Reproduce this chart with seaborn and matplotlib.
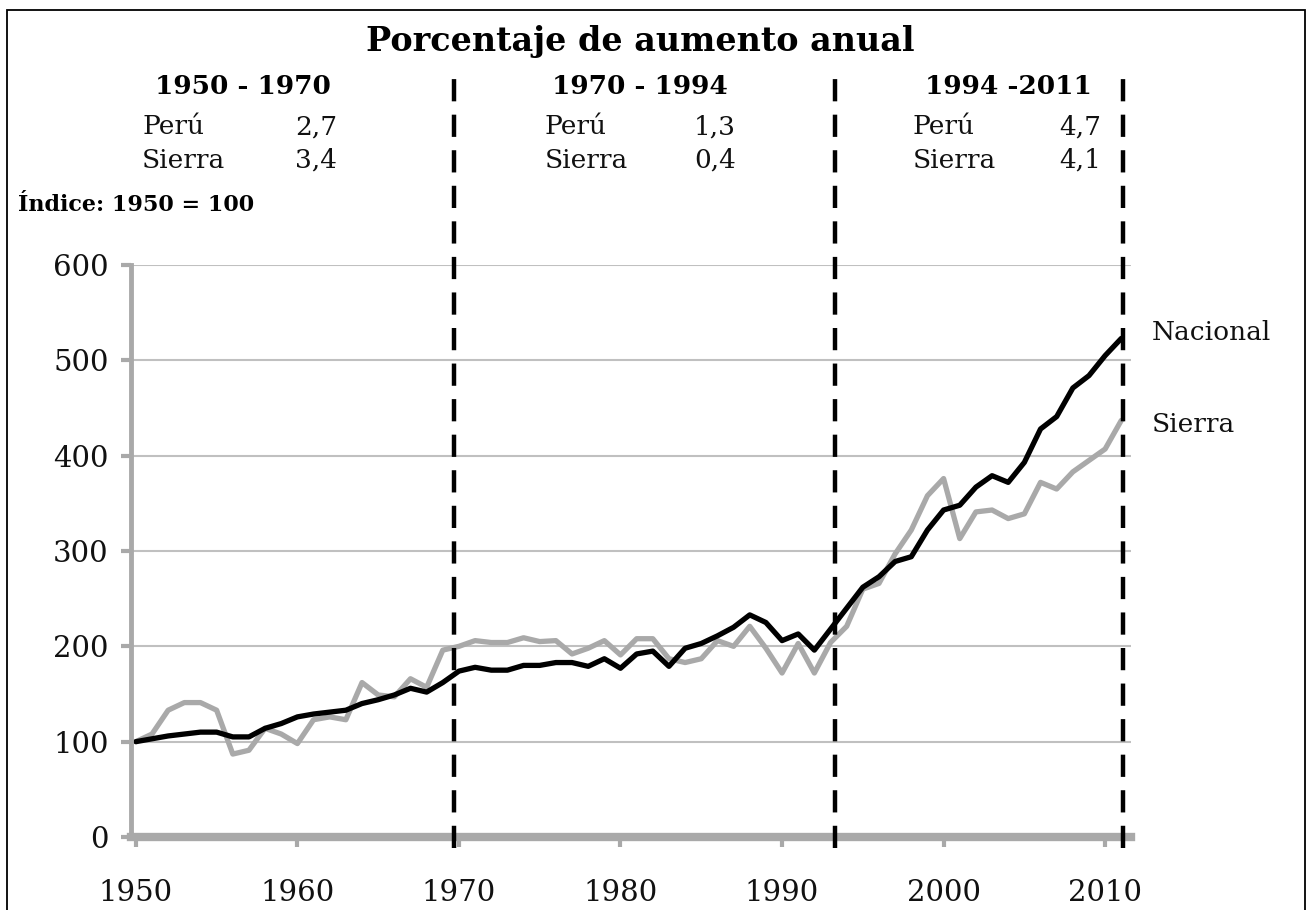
import matplotlib
matplotlib.use("Agg")
import matplotlib.pyplot as plt
import seaborn as sns
import pandas as pd
from matplotlib.patches import Rectangle

years = list(range(1950, 2012))
nacional = [100, 103, 106, 108, 110, 110, 105, 105, 114, 119,
            126, 129, 131, 133, 140, 144, 149, 156, 152, 162,
            174, 178, 175, 175, 180, 180, 183, 183, 179, 187,
            177, 192, 195, 179, 198, 203, 211, 220, 233, 225,
            206, 213, 196, 218, 240, 262, 273, 289, 294, 322,
            343, 348, 367, 379, 372, 393, 428, 441, 471, 484,
            505, 523]
sierra = [100, 108, 133, 141, 141, 133, 87, 91, 114, 108,
          98, 123, 126, 123, 162, 149, 147, 166, 157, 196,
          200, 206, 204, 204, 209, 205, 206, 192, 198, 206,
          191, 208, 208, 187, 183, 187, 206, 200, 221, 198,
          172, 203, 172, 204, 221, 260, 266, 297, 322, 358,
          376, 313, 341, 343, 334, 339, 372, 365, 383, 395,
          407, 437]
series_names = ["Nacional", "Sierra"]
period_breaks = [1969.7, 1993.3, 2011.1]
period_titles = ["1950 - 1970", "1970 - 1994", "1994 -2011"]
peru_rates = ["2,7", "1,3", "4,7"]
sierra_rates = ["3,4", "0,4", "4,1"]
yticks = [0, 100, 200, 300, 400, 500, 600]
xticks = [1950, 1960, 1970, 1980, 1990, 2000, 2010]

df = pd.DataFrame({"year": years * 2,
                   "value": nacional + sierra,
                   "serie": [series_names[0]] * len(years) + [series_names[1]] * len(years)})

sns.set_theme(style="white")
plt.rcParams["font.family"] = ["DejaVu Serif"]

W, H = 1309, 910
fig = plt.figure(figsize=(W / 100, H / 100), dpi=100)
ax = fig.add_axes([131 / W, 1 - 837 / H, (1131 - 131) / W, (837 - 265) / H])

GRAY = "#a9a9a9"
sns.lineplot(data=df, x="year", y="value", hue="serie",
             palette={"Nacional": "#000000", "Sierra": GRAY},
             hue_order=["Sierra", "Nacional"],
             linewidth=3.8, ax=ax, legend=False, sort=False)

ax.set_xlim(1949.7, 2011.6)
ax.set_ylim(0, 600)
ax.set_yticks(yticks)
ax.set_xticks(xticks)
ax.set_xlabel("")
ax.set_ylabel("")
for g in yticks[1:]:
    ax.axhline(g, color="#c0c0c0", lw=1.5, zorder=0)
for s in ["top", "right"]:
    ax.spines[s].set_visible(False)
ax.spines["left"].set_color(GRAY)
ax.spines["left"].set_linewidth(3.5)
ax.spines["bottom"].set_color(GRAY)
ax.spines["bottom"].set_linewidth(6)
ax.tick_params(axis="y", direction="out", length=7, width=3, color=GRAY,
               labelsize=21, pad=9, left=True, labelcolor="#111111")
ax.tick_params(axis="x", direction="out", length=7, width=3, color=GRAY,
               labelsize=21, pad=23, bottom=True, labelcolor="#111111")

ax.vlines(period_breaks, -12, 797, colors="black", linestyles=(0, (5, 3)),
          linewidth=3.2, clip_on=False, zorder=5)

# header texts
fig.text(640 / W, 1 - 42 / H, "Porcentaje de aumento anual", ha="center", va="center",
         fontsize=24, fontweight="bold", color="black")
centers = [243, 640, 1008]
left_lab = [142, 545, 913]
right_val = [337, 736, 1101]
for i in range(3):
    fig.text(centers[i] / W, 1 - 86 / H, period_titles[i], ha="center", va="center",
             fontsize=19, fontweight="bold", color="black")
    fig.text(left_lab[i] / W, 1 - 127 / H, "Perú", ha="left", va="center", fontsize=19, color="#111111")
    fig.text(left_lab[i] / W, 1 - 160 / H, "Sierra", ha="left", va="center", fontsize=19, color="#111111")
    fig.text(right_val[i] / W, 1 - 127 / H, peru_rates[i], ha="right", va="center", fontsize=19, color="#111111")
    fig.text(right_val[i] / W, 1 - 160 / H, sierra_rates[i], ha="right", va="center", fontsize=19, color="#111111")

fig.text(18 / W, 1 - 205 / H, "Índice: 1950 = 100", ha="left", va="center",
         fontsize=16, fontweight="bold", color="black")
fig.text(1152 / W, 1 - 333 / H, series_names[0], ha="left", va="center", fontsize=19, color="#111111")
fig.text(1152 / W, 1 - 425 / H, series_names[1], ha="left", va="center", fontsize=19, color="#111111")

fig.patches.append(Rectangle((7 / W, -0.05), (1305 - 7) / W, 1.05 - 10 / H,
                             transform=fig.transFigure, fill=False,
                             edgecolor="black", linewidth=1.3))

fig.savefig("out.png", dpi=100)
